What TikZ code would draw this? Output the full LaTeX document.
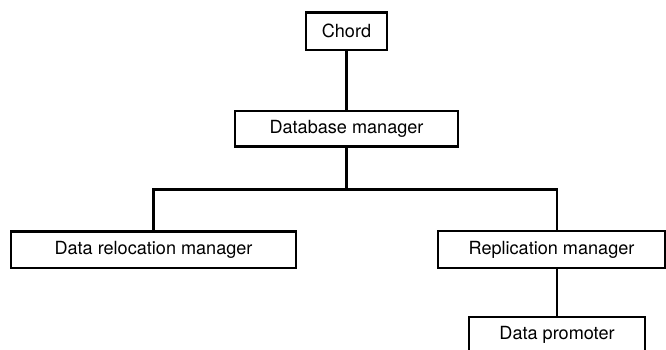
\documentclass[tikz,border=0pt]{standalone}
\usepackage{fontspec}
\setmainfont{TeX Gyre Heros}
\begin{document}
\begin{tikzpicture}[line width=1.25pt,
    box/.style={draw,line width=1.2pt,minimum height=0.73cm,inner sep=0pt,font=\fontsize{10.3}{12}\selectfont}]
        %% Frame
        \useasboundingbox (0,0) rectangle (13.32,6.98);
        \clip (0,0) rectangle (13.32,6.98);
        %% Boxes
        \node[box,minimum width=1.61cm,minimum height=0.75cm] (chord) at (6.93,6.354) {Chord};
        \node[box,minimum width=4.46cm,minimum height=0.71cm] (dbm) at (6.93,4.404) {Database manager};
        \node[box,minimum width=5.70cm] (reloc) at (3.07,1.986) {Data relocation manager};
        \node[box,minimum width=4.54cm] (repl) at (11.03,1.99) {Replication manager};
        \node[box,minimum width=3.52cm,minimum height=0.74cm] (promoter) at (11.14,0.276) {Data promoter};
        \coordinate (split) at (6.93,3.19);
        %% Links
        \draw (chord.south) -- (dbm.north);
        \draw (dbm.south) -- (split);
        \draw (reloc.north) |- (split) -| (promoter.north |- repl.north);
        \draw (promoter.north |- repl.south) -- (promoter.north);
    \end{tikzpicture}
\end{document}
